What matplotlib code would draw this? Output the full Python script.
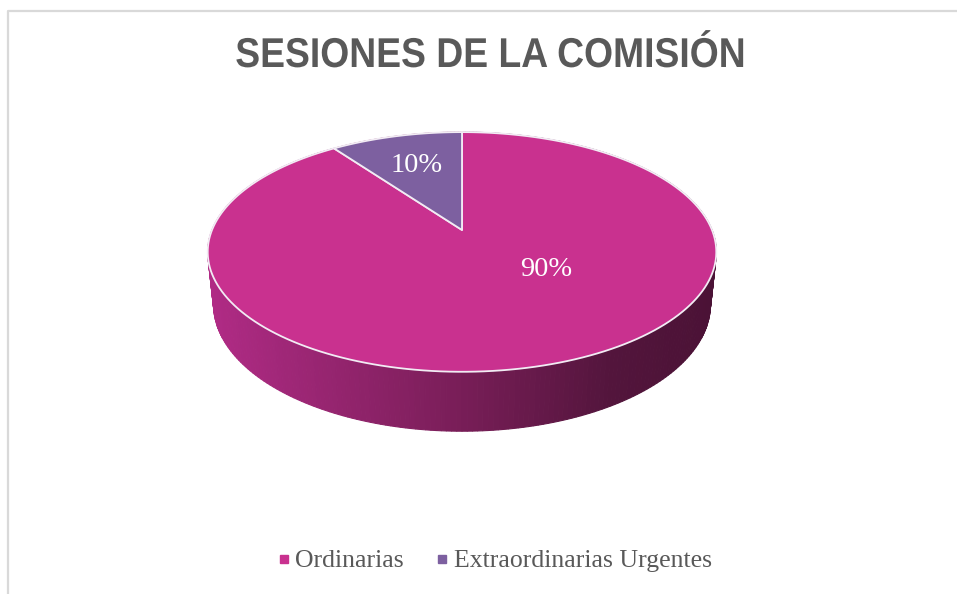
import matplotlib
matplotlib.use('Agg')
import matplotlib.pyplot as plt
from matplotlib.colors import LinearSegmentedColormap
from matplotlib.lines import Line2D
from matplotlib.patheffects import AbstractPathEffect
from matplotlib.transforms import Affine2D
import numpy as np

# datos del grafico
categorias = ['Ordinarias', 'Extraordinarias Urgentes']
valores = [90, 10]
colores = ['#C9318F', '#7D60A0']
titulo = 'SESIONES DE LA COMISIÓN'

# geometria del pastel 3D (en pixeles)
cx, cy = 462, 230
R = 250
h = 60
phi = np.radians(27.6)
D = 1210.0

def proj(x, y, z):
    v = y * np.sin(phi) + z * np.cos(phi)
    w = y * np.cos(phi) - z * np.sin(phi)
    s = D / (D + w)
    return cx + x * s, cy - v * s, w

# efecto para estrechar el titulo (como Arial Narrow)
class Estrecho(AbstractPathEffect):
    def __init__(self, sx, xc):
        super().__init__()
        self.sx = sx
        self.xc = xc

    def draw_path(self, renderer, gc, tpath, affine, rgbFace=None):
        a = affine + Affine2D().translate(-self.xc, 0).scale(self.sx, 1).translate(self.xc, 0)
        renderer.draw_path(gc, tpath, a, rgbFace)

fig = plt.figure(figsize=(9.57, 5.94), dpi=100)
ax = fig.add_axes([0, 0, 1, 1])
ax.set_xlim(0, 957)
ax.set_ylim(594, 0)
ax.axis('off')

# borde del area del grafico
ax.plot([7.5, 7.5, 965], [600, 10.5, 10.5], color='#D9D9D9', lw=1.6, solid_capstyle='butt')

# costado del cilindro con degradado horizontal
lado = LinearSegmentedColormap.from_list('lado', [(0, '#B02B85'), (0.45, '#7E1F5C'),
                                                 (0.8, '#53153C'), (1, '#4B1236')])
th = np.radians(np.linspace(0, 360, 361))
quads = []
for a0, a1 in zip(th[:-1], th[1:]):
    xa, ya, wa = proj(R * np.cos(a0), R * np.sin(a0), 0)
    xb, yb, wb = proj(R * np.cos(a1), R * np.sin(a1), 0)
    xc, yc, _ = proj(R * np.cos(a1), R * np.sin(a1), -h)
    xd, yd, _ = proj(R * np.cos(a0), R * np.sin(a0), -h)
    quads.append(((wa + wb) / 2, [xa, xb, xc, xd], [ya, yb, yc, yd]))
quads.sort(key=lambda q: -q[0])
for w, qx, qy in quads:
    t = np.clip((np.mean(qx) - (cx - R)) / (2 * R), 0, 1)
    col = lado(t)
    ax.fill(qx, qy, color=col, ec=col, lw=0.8)

# cara superior: rebanadas (Excel empieza a las 12 y gira en sentido horario)
total = sum(valores)
inicio = 90.0
angulos = []
for val in valores:
    barrido = 360.0 * val / total
    angulos.append((inicio - barrido, inicio))
    inicio -= barrido

for (a0, a1), col in zip(angulos, colores):
    t = np.radians(np.linspace(a0, a1, 200))
    px, py, _ = proj(R * np.cos(t), R * np.sin(t), 0)
    ox, oy, _ = proj(0, 0, 0)
    ax.fill(np.r_[ox, px, ox], np.r_[oy, py, oy], color=col, ec='#F2ECF4', lw=1.3,
            joinstyle='round')

# etiquetas de porcentaje
etq_ang = [-45, 108]
etq_r = [0.45, 0.65]
for val, a, r in zip(valores, etq_ang, etq_r):
    lx, ly, _ = proj(r * R * np.cos(np.radians(a)), r * R * np.sin(np.radians(a)), 0)
    ax.text(lx, ly, f'{val / total * 100:.0f}%', color='white', fontsize=20.5,
            family=['Liberation Serif', 'DejaVu Serif'], ha='center', va='center')

# titulo
ax.text(490, 67, titulo, ha='center', va='baseline', fontsize=30, fontweight='bold',
        color='#595959', family=['Liberation Sans', 'DejaVu Sans'],
        path_effects=[Estrecho(0.895, 490)])

# leyenda
manijas = [Line2D([], [], ls='none', marker='s', ms=6, color=c) for c in colores]
leg = fig.legend(manijas, categorias, loc='center', bbox_to_anchor=(494 / 957, 1 - 561 / 594),
                 ncol=2, frameon=False, handlelength=0.6, handletextpad=0.15, columnspacing=1.2,
                 prop={'family': ['Liberation Serif', 'DejaVu Serif'], 'size': 18.5})
for tx in leg.get_texts():
    tx.set_color('#595959')

fig.savefig('out.png', dpi=100)
